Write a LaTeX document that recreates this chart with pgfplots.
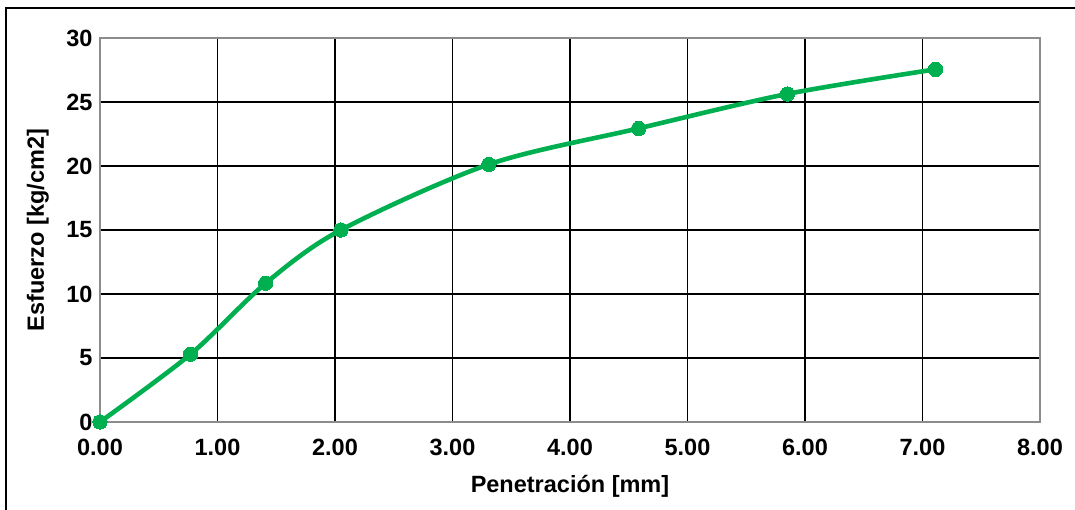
\documentclass[border=0pt]{standalone}
\usepackage{pgfplots}
\pgfplotsset{compat=1.18}
\usepackage{fontspec}
\setmainfont{Liberation Sans}
\definecolor{lgreen}{RGB}{0,176,80}
\begin{document}
\begin{tikzpicture}[x=1pt,y=1pt]
\useasboundingbox (0,0) rectangle (1075,510);
\draw[black, line width=1.6pt] (6,-5) -- (6,502) -- (1080,502);
\begin{axis}[
  at={(100pt,88pt)}, anchor=south west,
  scale only axis, width=940pt, height=384pt,
  xmin=0, xmax=8, ymin=0, ymax=30,
  xtick={0,1,...,8}, ytick={0,5,...,30},
  xticklabel style={/pgf/number format/.cd, fixed, fixed zerofill, precision=2},
  /pgf/number format/assume math mode=true,
  tick label style={font=\fontsize{23.5}{26}\selectfont\bfseries},
  label style={font=\fontsize{23.5}{26}\selectfont\bfseries},
  xlabel={Penetración [mm]},
  ylabel={Esfuerzo [kg/cm2]},
  xlabel style={at={(axis description cs:0.5,-0.167)}, anchor=center},
  ylabel style={at={(axis description cs:-0.066,0.5)}, anchor=center},
  grid=major,
  major grid style={black, line width=1.1pt},
  axis line style={gray!90, line width=2.2pt},
  tick style={draw=none},
  xticklabel shift=14pt, yticklabel shift=4pt,
  clip=false,
]
\addplot[lgreen, line width=4.6pt, smooth, tension=0.5, mark=*, mark size=7.2pt, mark options={fill=lgreen, draw=lgreen, line width=0pt}]
coordinates {(0,0) (0.77,5.29) (1.41,10.84) (2.05,15.0) (3.31,20.13) (4.585,22.94) (5.85,25.63) (7.11,27.55)};
\end{axis}
\end{tikzpicture}
\end{document}
